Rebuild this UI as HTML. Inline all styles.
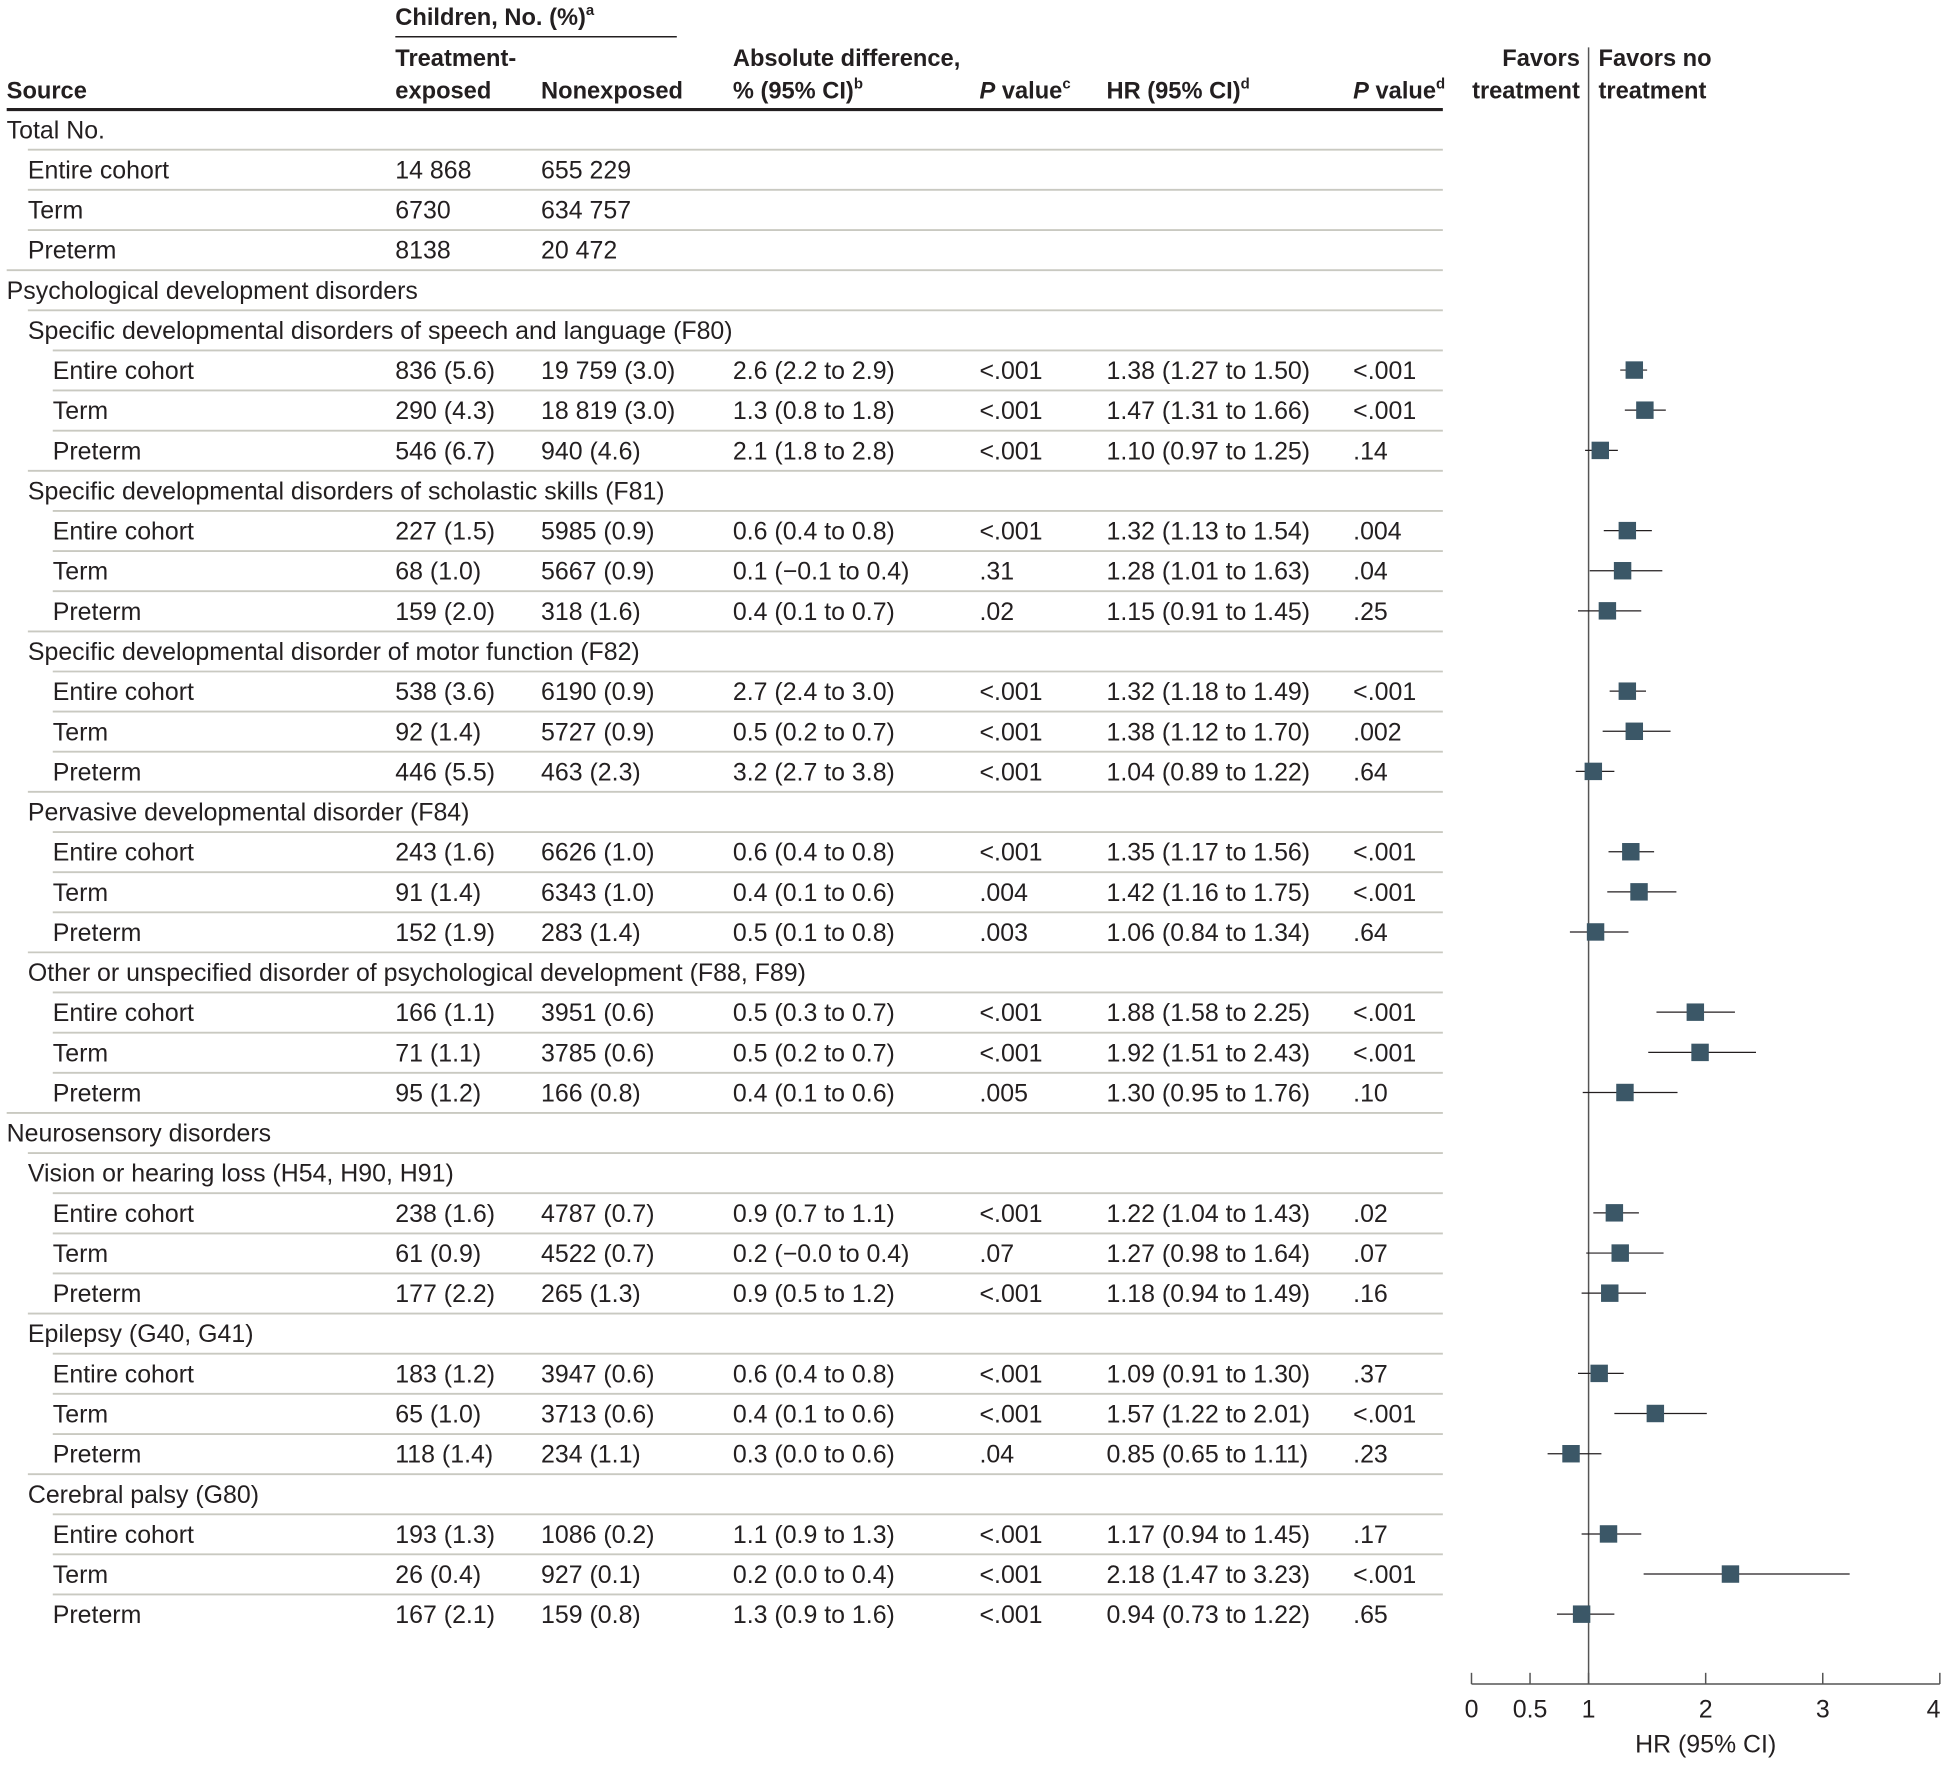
<!DOCTYPE html>
<html><head><meta charset="utf-8"><style>
html,body{margin:0;padding:0;background:#fff;}
svg{display:block;}
text{font-family:"Liberation Sans",sans-serif;font-size:20px;fill:#231f20;}
.b{font-weight:bold;font-size:19px;}
.s{font-size:12px;}
.sep{stroke:#c9c9c1;stroke-width:1.5;}
.ci{stroke:#231f20;stroke-width:1;}
.sq{fill:#3b5767;}
</style></head><body>
<svg width="1954" height="1765" viewBox="0 0 1568 1417" xmlns="http://www.w3.org/2000/svg">
<!-- header -->
<text x="317" y="20" class="b">Children, No. (%)<tspan class="s" dy="-8">a</tspan></text>
<line x1="317" y1="29.5" x2="543" y2="29.5" stroke="#231f20" stroke-width="1.2"/>
<text x="317" y="53" class="b">Treatment-</text>
<text x="317" y="79" class="b">exposed</text>
<text x="5" y="79" class="b">Source</text>
<text x="434" y="79" class="b">Nonexposed</text>
<text x="588" y="53" class="b">Absolute difference,</text>
<text x="588" y="79" class="b">% (95% CI)<tspan class="s" dy="-8">b</tspan></text>
<text x="786" y="79" class="b"><tspan font-style="italic">P</tspan> value<tspan class="s" dy="-8">c</tspan></text>
<text x="888" y="79" class="b">HR (95% CI)<tspan class="s" dy="-8">d</tspan></text>
<text x="1086" y="79" class="b"><tspan font-style="italic">P</tspan> value<tspan class="s" dy="-8">d</tspan></text>
<text x="1268" y="53" class="b" text-anchor="end">Favors</text>
<text x="1268" y="79" class="b" text-anchor="end">treatment</text>
<text x="1283" y="53" class="b">Favors no</text>
<text x="1283" y="79" class="b">treatment</text>
<line x1="5" y1="88" x2="1158" y2="88" stroke="#231f20" stroke-width="2.5"/>

<!-- separators -->
<g class="sep">
<line x1="22" y1="120.2" x2="1158" y2="120.2"/>
<line x1="22" y1="152.4" x2="1158" y2="152.4"/>
<line x1="22" y1="184.7" x2="1158" y2="184.7"/>
<line x1="5" y1="216.9" x2="1158" y2="216.9"/>
<line x1="22" y1="249.1" x2="1158" y2="249.1"/>
<line x1="42" y1="281.3" x2="1158" y2="281.3"/>
<line x1="42" y1="313.5" x2="1158" y2="313.5"/>
<line x1="42" y1="345.8" x2="1158" y2="345.8"/>
<line x1="22" y1="378.0" x2="1158" y2="378.0"/>
<line x1="42" y1="410.2" x2="1158" y2="410.2"/>
<line x1="42" y1="442.4" x2="1158" y2="442.4"/>
<line x1="42" y1="474.6" x2="1158" y2="474.6"/>
<line x1="22" y1="506.9" x2="1158" y2="506.9"/>
<line x1="42" y1="539.1" x2="1158" y2="539.1"/>
<line x1="42" y1="571.3" x2="1158" y2="571.3"/>
<line x1="42" y1="603.5" x2="1158" y2="603.5"/>
<line x1="22" y1="635.7" x2="1158" y2="635.7"/>
<line x1="42" y1="668.0" x2="1158" y2="668.0"/>
<line x1="42" y1="700.2" x2="1158" y2="700.2"/>
<line x1="42" y1="732.4" x2="1158" y2="732.4"/>
<line x1="22" y1="764.6" x2="1158" y2="764.6"/>
<line x1="42" y1="796.8" x2="1158" y2="796.8"/>
<line x1="42" y1="829.1" x2="1158" y2="829.1"/>
<line x1="42" y1="861.3" x2="1158" y2="861.3"/>
<line x1="5" y1="893.5" x2="1158" y2="893.5"/>
<line x1="22" y1="925.7" x2="1158" y2="925.7"/>
<line x1="42" y1="957.9" x2="1158" y2="957.9"/>
<line x1="42" y1="990.2" x2="1158" y2="990.2"/>
<line x1="42" y1="1022.4" x2="1158" y2="1022.4"/>
<line x1="22" y1="1054.6" x2="1158" y2="1054.6"/>
<line x1="42" y1="1086.8" x2="1158" y2="1086.8"/>
<line x1="42" y1="1119.0" x2="1158" y2="1119.0"/>
<line x1="42" y1="1151.3" x2="1158" y2="1151.3"/>
<line x1="22" y1="1183.5" x2="1158" y2="1183.5"/>
<line x1="42" y1="1215.7" x2="1158" y2="1215.7"/>
<line x1="42" y1="1247.9" x2="1158" y2="1247.9"/>
<line x1="42" y1="1280.1" x2="1158" y2="1280.1"/>
</g>

<!-- rows -->
<g>
<text x="5" y="111">Total No.</text>
<text x="22" y="143.2">Entire cohort</text><text x="317" y="143.2">14 868</text><text x="434" y="143.2">655 229</text>
<text x="22" y="175.4">Term</text><text x="317" y="175.4">6730</text><text x="434" y="175.4">634 757</text>
<text x="22" y="207.7">Preterm</text><text x="317" y="207.7">8138</text><text x="434" y="207.7">20 472</text>
<text x="5" y="239.9">Psychological development disorders</text>
<text x="22" y="272.1">Specific developmental disorders of speech and language (F80)</text>

<text x="42" y="304.3">Entire cohort</text><text x="317" y="304.3">836 (5.6)</text><text x="434" y="304.3">19 759 (3.0)</text><text x="588" y="304.3">2.6 (2.2 to 2.9)</text><text x="786" y="304.3">&lt;.001</text><text x="888" y="304.3">1.38 (1.27 to 1.50)</text><text x="1086" y="304.3">&lt;.001</text>
<text x="42" y="336.5">Term</text><text x="317" y="336.5">290 (4.3)</text><text x="434" y="336.5">18 819 (3.0)</text><text x="588" y="336.5">1.3 (0.8 to 1.8)</text><text x="786" y="336.5">&lt;.001</text><text x="888" y="336.5">1.47 (1.31 to 1.66)</text><text x="1086" y="336.5">&lt;.001</text>
<text x="42" y="368.8">Preterm</text><text x="317" y="368.8">546 (6.7)</text><text x="434" y="368.8">940 (4.6)</text><text x="588" y="368.8">2.1 (1.8 to 2.8)</text><text x="786" y="368.8">&lt;.001</text><text x="888" y="368.8">1.10 (0.97 to 1.25)</text><text x="1086" y="368.8">.14</text>
<text x="22" y="401.0">Specific developmental disorders of scholastic skills (F81)</text>
<text x="42" y="433.2">Entire cohort</text><text x="317" y="433.2">227 (1.5)</text><text x="434" y="433.2">5985 (0.9)</text><text x="588" y="433.2">0.6 (0.4 to 0.8)</text><text x="786" y="433.2">&lt;.001</text><text x="888" y="433.2">1.32 (1.13 to 1.54)</text><text x="1086" y="433.2">.004</text>
<text x="42" y="465.4">Term</text><text x="317" y="465.4">68 (1.0)</text><text x="434" y="465.4">5667 (0.9)</text><text x="588" y="465.4">0.1 (−0.1 to 0.4)</text><text x="786" y="465.4">.31</text><text x="888" y="465.4">1.28 (1.01 to 1.63)</text><text x="1086" y="465.4">.04</text>
<text x="42" y="497.6">Preterm</text><text x="317" y="497.6">159 (2.0)</text><text x="434" y="497.6">318 (1.6)</text><text x="588" y="497.6">0.4 (0.1 to 0.7)</text><text x="786" y="497.6">.02</text><text x="888" y="497.6">1.15 (0.91 to 1.45)</text><text x="1086" y="497.6">.25</text>
<text x="22" y="529.9">Specific developmental disorder of motor function (F82)</text>
<text x="42" y="562.1">Entire cohort</text><text x="317" y="562.1">538 (3.6)</text><text x="434" y="562.1">6190 (0.9)</text><text x="588" y="562.1">2.7 (2.4 to 3.0)</text><text x="786" y="562.1">&lt;.001</text><text x="888" y="562.1">1.32 (1.18 to 1.49)</text><text x="1086" y="562.1">&lt;.001</text>
<text x="42" y="594.3">Term</text><text x="317" y="594.3">92 (1.4)</text><text x="434" y="594.3">5727 (0.9)</text><text x="588" y="594.3">0.5 (0.2 to 0.7)</text><text x="786" y="594.3">&lt;.001</text><text x="888" y="594.3">1.38 (1.12 to 1.70)</text><text x="1086" y="594.3">.002</text>
<text x="42" y="626.5">Preterm</text><text x="317" y="626.5">446 (5.5)</text><text x="434" y="626.5">463 (2.3)</text><text x="588" y="626.5">3.2 (2.7 to 3.8)</text><text x="786" y="626.5">&lt;.001</text><text x="888" y="626.5">1.04 (0.89 to 1.22)</text><text x="1086" y="626.5">.64</text>
<text x="22" y="658.7">Pervasive developmental disorder (F84)</text>
<text x="42" y="691.0">Entire cohort</text><text x="317" y="691.0">243 (1.6)</text><text x="434" y="691.0">6626 (1.0)</text><text x="588" y="691.0">0.6 (0.4 to 0.8)</text><text x="786" y="691.0">&lt;.001</text><text x="888" y="691.0">1.35 (1.17 to 1.56)</text><text x="1086" y="691.0">&lt;.001</text>
<text x="42" y="723.2">Term</text><text x="317" y="723.2">91 (1.4)</text><text x="434" y="723.2">6343 (1.0)</text><text x="588" y="723.2">0.4 (0.1 to 0.6)</text><text x="786" y="723.2">.004</text><text x="888" y="723.2">1.42 (1.16 to 1.75)</text><text x="1086" y="723.2">&lt;.001</text>
<text x="42" y="755.4">Preterm</text><text x="317" y="755.4">152 (1.9)</text><text x="434" y="755.4">283 (1.4)</text><text x="588" y="755.4">0.5 (0.1 to 0.8)</text><text x="786" y="755.4">.003</text><text x="888" y="755.4">1.06 (0.84 to 1.34)</text><text x="1086" y="755.4">.64</text>
<text x="22" y="787.6">Other or unspecified disorder of psychological development (F88, F89)</text>
<text x="42" y="819.8">Entire cohort</text><text x="317" y="819.8">166 (1.1)</text><text x="434" y="819.8">3951 (0.6)</text><text x="588" y="819.8">0.5 (0.3 to 0.7)</text><text x="786" y="819.8">&lt;.001</text><text x="888" y="819.8">1.88 (1.58 to 2.25)</text><text x="1086" y="819.8">&lt;.001</text>
<text x="42" y="852.1">Term</text><text x="317" y="852.1">71 (1.1)</text><text x="434" y="852.1">3785 (0.6)</text><text x="588" y="852.1">0.5 (0.2 to 0.7)</text><text x="786" y="852.1">&lt;.001</text><text x="888" y="852.1">1.92 (1.51 to 2.43)</text><text x="1086" y="852.1">&lt;.001</text>
<text x="42" y="884.3">Preterm</text><text x="317" y="884.3">95 (1.2)</text><text x="434" y="884.3">166 (0.8)</text><text x="588" y="884.3">0.4 (0.1 to 0.6)</text><text x="786" y="884.3">.005</text><text x="888" y="884.3">1.30 (0.95 to 1.76)</text><text x="1086" y="884.3">.10</text>
<text x="5" y="916.5">Neurosensory disorders</text>
<text x="22" y="948.7">Vision or hearing loss (H54, H90, H91)</text>
<text x="42" y="980.9">Entire cohort</text><text x="317" y="980.9">238 (1.6)</text><text x="434" y="980.9">4787 (0.7)</text><text x="588" y="980.9">0.9 (0.7 to 1.1)</text><text x="786" y="980.9">&lt;.001</text><text x="888" y="980.9">1.22 (1.04 to 1.43)</text><text x="1086" y="980.9">.02</text>
<text x="42" y="1013.2">Term</text><text x="317" y="1013.2">61 (0.9)</text><text x="434" y="1013.2">4522 (0.7)</text><text x="588" y="1013.2">0.2 (−0.0 to 0.4)</text><text x="786" y="1013.2">.07</text><text x="888" y="1013.2">1.27 (0.98 to 1.64)</text><text x="1086" y="1013.2">.07</text>
<text x="42" y="1045.4">Preterm</text><text x="317" y="1045.4">177 (2.2)</text><text x="434" y="1045.4">265 (1.3)</text><text x="588" y="1045.4">0.9 (0.5 to 1.2)</text><text x="786" y="1045.4">&lt;.001</text><text x="888" y="1045.4">1.18 (0.94 to 1.49)</text><text x="1086" y="1045.4">.16</text>
<text x="22" y="1077.6">Epilepsy (G40, G41)</text>
<text x="42" y="1109.8">Entire cohort</text><text x="317" y="1109.8">183 (1.2)</text><text x="434" y="1109.8">3947 (0.6)</text><text x="588" y="1109.8">0.6 (0.4 to 0.8)</text><text x="786" y="1109.8">&lt;.001</text><text x="888" y="1109.8">1.09 (0.91 to 1.30)</text><text x="1086" y="1109.8">.37</text>
<text x="42" y="1142.0">Term</text><text x="317" y="1142.0">65 (1.0)</text><text x="434" y="1142.0">3713 (0.6)</text><text x="588" y="1142.0">0.4 (0.1 to 0.6)</text><text x="786" y="1142.0">&lt;.001</text><text x="888" y="1142.0">1.57 (1.22 to 2.01)</text><text x="1086" y="1142.0">&lt;.001</text>
<text x="42" y="1174.3">Preterm</text><text x="317" y="1174.3">118 (1.4)</text><text x="434" y="1174.3">234 (1.1)</text><text x="588" y="1174.3">0.3 (0.0 to 0.6)</text><text x="786" y="1174.3">.04</text><text x="888" y="1174.3">0.85 (0.65 to 1.11)</text><text x="1086" y="1174.3">.23</text>
<text x="22" y="1206.5">Cerebral palsy (G80)</text>
<text x="42" y="1238.7">Entire cohort</text><text x="317" y="1238.7">193 (1.3)</text><text x="434" y="1238.7">1086 (0.2)</text><text x="588" y="1238.7">1.1 (0.9 to 1.3)</text><text x="786" y="1238.7">&lt;.001</text><text x="888" y="1238.7">1.17 (0.94 to 1.45)</text><text x="1086" y="1238.7">.17</text>
<text x="42" y="1270.9">Term</text><text x="317" y="1270.9">26 (0.4)</text><text x="434" y="1270.9">927 (0.1)</text><text x="588" y="1270.9">0.2 (0.0 to 0.4)</text><text x="786" y="1270.9">&lt;.001</text><text x="888" y="1270.9">2.18 (1.47 to 3.23)</text><text x="1086" y="1270.9">&lt;.001</text>
<text x="42" y="1303.1">Preterm</text><text x="317" y="1303.1">167 (2.1)</text><text x="434" y="1303.1">159 (0.8)</text><text x="588" y="1303.1">1.3 (0.9 to 1.6)</text><text x="786" y="1303.1">&lt;.001</text><text x="888" y="1303.1">0.94 (0.73 to 1.22)</text><text x="1086" y="1303.1">.65</text>
</g>

<!-- forest plot: x = 1181 + 94*v -->
<line x1="1275" y1="38" x2="1275" y2="1352" stroke="#555" stroke-width="1.2"/>
<line x1="1181" y1="1352" x2="1557" y2="1352" stroke="#555" stroke-width="1.2"/>
<g stroke="#555" stroke-width="1.2">
<line x1="1181" y1="1343" x2="1181" y2="1352"/><line x1="1228" y1="1343" x2="1228" y2="1352"/><line x1="1275" y1="1343" x2="1275" y2="1352"/><line x1="1369" y1="1343" x2="1369" y2="1352"/><line x1="1463" y1="1343" x2="1463" y2="1352"/><line x1="1557" y1="1343" x2="1557" y2="1352"/>
</g>
<g text-anchor="middle">
<text x="1181" y="1379">0</text><text x="1228" y="1379">0.5</text><text x="1275" y="1379">1</text><text x="1369" y="1379">2</text><text x="1463" y="1379">3</text><text x="1552" y="1379">4</text>
<text x="1369" y="1407">HR (95% CI)</text>
</g>
<g class="ci">
<line x1="1300.4" y1="297.1" x2="1322.0" y2="297.1"/>
<line x1="1304.1" y1="329.3" x2="1337.0" y2="329.3"/>
<line x1="1272.2" y1="361.6" x2="1298.5" y2="361.6"/>
<line x1="1287.2" y1="426.0" x2="1325.8" y2="426.0"/>
<line x1="1275.9" y1="458.2" x2="1334.2" y2="458.2"/>
<line x1="1266.5" y1="490.4" x2="1317.3" y2="490.4"/>
<line x1="1291.9" y1="554.9" x2="1321.1" y2="554.9"/>
<line x1="1286.3" y1="587.1" x2="1340.8" y2="587.1"/>
<line x1="1264.7" y1="619.3" x2="1295.7" y2="619.3"/>
<line x1="1291.0" y1="683.8" x2="1327.6" y2="683.8"/>
<line x1="1290.0" y1="716.0" x2="1345.5" y2="716.0"/>
<line x1="1260.0" y1="748.2" x2="1307.0" y2="748.2"/>
<line x1="1329.5" y1="812.6" x2="1392.5" y2="812.6"/>
<line x1="1322.9" y1="844.9" x2="1409.4" y2="844.9"/>
<line x1="1270.3" y1="877.1" x2="1346.4" y2="877.1"/>
<line x1="1278.8" y1="973.7" x2="1315.4" y2="973.7"/>
<line x1="1273.1" y1="1006.0" x2="1335.2" y2="1006.0"/>
<line x1="1269.4" y1="1038.2" x2="1321.1" y2="1038.2"/>
<line x1="1266.5" y1="1102.6" x2="1303.2" y2="1102.6"/>
<line x1="1295.7" y1="1134.8" x2="1369.9" y2="1134.8"/>
<line x1="1242.1" y1="1167.1" x2="1285.3" y2="1167.1"/>
<line x1="1269.4" y1="1231.5" x2="1317.3" y2="1231.5"/>
<line x1="1319.2" y1="1263.7" x2="1484.6" y2="1263.7"/>
<line x1="1249.6" y1="1295.9" x2="1295.7" y2="1295.9"/>
</g>
<g class="sq">
<rect x="1304.7" y="290.1" width="14" height="14"/>
<rect x="1313.2" y="322.3" width="14" height="14"/>
<rect x="1277.4" y="354.6" width="14" height="14"/>
<rect x="1299.1" y="419.0" width="14" height="14"/>
<rect x="1295.3" y="451.2" width="14" height="14"/>
<rect x="1283.1" y="483.4" width="14" height="14"/>
<rect x="1299.1" y="547.9" width="14" height="14"/>
<rect x="1304.7" y="580.1" width="14" height="14"/>
<rect x="1271.8" y="612.3" width="14" height="14"/>
<rect x="1301.9" y="676.8" width="14" height="14"/>
<rect x="1308.5" y="709.0" width="14" height="14"/>
<rect x="1273.6" y="741.2" width="14" height="14"/>
<rect x="1353.7" y="805.6" width="14" height="14"/>
<rect x="1357.5" y="837.9" width="14" height="14"/>
<rect x="1297.2" y="870.1" width="14" height="14"/>
<rect x="1288.7" y="966.7" width="14" height="14"/>
<rect x="1293.4" y="999.0" width="14" height="14"/>
<rect x="1285.0" y="1031.2" width="14" height="14"/>
<rect x="1276.5" y="1095.6" width="14" height="14"/>
<rect x="1321.6" y="1127.8" width="14" height="14"/>
<rect x="1253.9" y="1160.1" width="14" height="14"/>
<rect x="1284.0" y="1224.5" width="14" height="14"/>
<rect x="1381.9" y="1256.7" width="14" height="14"/>
<rect x="1262.4" y="1288.9" width="14" height="14"/>
</g>
</svg>
</body></html>
